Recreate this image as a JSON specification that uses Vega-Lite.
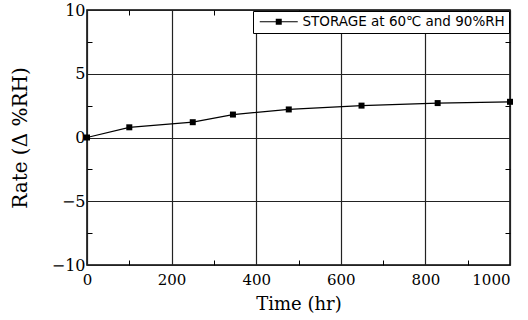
{
  "$schema": "https://vega.github.io/schema/vega-lite/v6.json",
  "width": 423,
  "height": 255,
  "autosize": {"type": "none"},
  "padding": {"left": 87, "top": 10, "right": 18, "bottom": 55},
  "background": "white",
  "config": {
    "view": {"stroke": "black", "strokeWidth": 1.5}
  },
  "data": {
    "values": [
      {"time": 0, "rate": 0, "series": "STORAGE at 60℃ and 90%RH"},
      {"time": 100, "rate": 0.8, "series": "STORAGE at 60℃ and 90%RH"},
      {"time": 250, "rate": 1.2, "series": "STORAGE at 60℃ and 90%RH"},
      {"time": 345, "rate": 1.8, "series": "STORAGE at 60℃ and 90%RH"},
      {"time": 477, "rate": 2.2, "series": "STORAGE at 60℃ and 90%RH"},
      {"time": 649, "rate": 2.5, "series": "STORAGE at 60℃ and 90%RH"},
      {"time": 829, "rate": 2.7, "series": "STORAGE at 60℃ and 90%RH"},
      {"time": 1000, "rate": 2.8, "series": "STORAGE at 60℃ and 90%RH"}
    ]
  },
  "layer": [
    {
      "mark": {"type": "line", "color": "black", "strokeWidth": 1.2},
      "encoding": {
        "x": {
          "field": "time", "type": "quantitative",
          "scale": {"domain": [0, 1000], "nice": false},
          "axis": {
            "orient": "bottom",
            "values": [0, 100, 200, 300, 400, 500, 600, 700, 800, 900, 1000],
            "format": "d",
            "title": "Time (hr)",
            "domain": false,
            "grid": true,
            "gridColor": "#222",
            "gridWidth": 1.2,
            "gridOpacity": {"condition": {"test": "datum.value % 200 === 0", "value": 1}, "value": 0},
            "tickSize": -5,
            "tickColor": "black",
            "tickOpacity": {"condition": {"test": "datum.value % 200 !== 0", "value": 1}, "value": 0},
            "labelExpr": "datum.value % 200 === 0 ? datum.label : ''",
            "labelAlign": {"condition": {"test": "datum.value === 1000", "value": "right"}, "value": "center"},
            "labelFont": "DejaVu Serif",
            "labelFontSize": 15,
            "labelColor": "black",
            "labelPadding": 12,
            "labelFlush": false,
            "labelOverlap": false,
            "titleFont": "DejaVu Serif",
            "titleFontSize": 18,
            "titleFontWeight": "normal",
            "titleColor": "black",
            "titlePadding": 8
          }
        },
        "y": {
          "field": "rate", "type": "quantitative",
          "scale": {"domain": [-10, 10], "nice": false},
          "axis": {
            "orient": "left",
            "values": [-10, -7.5, -5, -2.5, 0, 2.5, 5, 7.5, 10],
            "title": "Rate (Δ %RH)",
            "domain": false,
            "grid": true,
            "gridColor": "#222",
            "gridWidth": 1.2,
            "gridOpacity": {"condition": {"test": "datum.value % 5 === 0", "value": 1}, "value": 0},
            "tickSize": -5,
            "tickColor": "black",
            "tickOpacity": {"condition": {"test": "datum.value % 5 !== 0", "value": 1}, "value": 0},
            "labelExpr": "datum.value % 5 === 0 ? datum.label : ''",
            "labelFont": "DejaVu Serif",
            "labelFontSize": 16,
            "labelColor": "black",
            "labelPadding": 7,
            "labelFlush": false,
            "labelOverlap": false,
            "titleFont": "DejaVu Serif",
            "titleFontSize": 20,
            "titleFontWeight": "normal",
            "titleColor": "black",
            "titlePadding": 21
          }
        }
      }
    },
    {
      "mark": {"type": "point", "shape": "square", "filled": true, "size": 36, "opacity": 1},
      "encoding": {
        "x": {
          "field": "time", "type": "quantitative",
          "scale": {"domain": [0, 1000], "nice": false},
          "axis": {
            "orient": "top",
            "values": [100, 300, 500, 700, 900],
            "labels": false, "grid": false, "domain": false, "title": null,
            "tickSize": -5, "tickColor": "black"
          }
        },
        "y": {
          "field": "rate", "type": "quantitative",
          "scale": {"domain": [-10, 10], "nice": false},
          "axis": {
            "orient": "right",
            "values": [-7.5, -2.5, 2.5, 7.5],
            "labels": false, "grid": false, "domain": false, "title": null,
            "tickSize": -5, "tickColor": "black"
          }
        },
        "color": {
          "field": "series", "type": "nominal",
          "scale": {"range": ["black"]},
          "legend": {
            "orient": "top-right",
            "offset": 1,
            "title": null,
            "strokeColor": "black",
            "fillColor": "white",
            "padding": 4,
            "symbolType": "M-3.8,-0.12H3.8V0.12H-3.8ZM-0.6,-0.6H0.6V0.6H-0.6Z",
            "symbolSize": 100,
            "symbolOffset": 15,
            "labelOffset": 17,
            "labelFont": "DejaVu Sans",
            "labelFontSize": 13.5,
            "labelColor": "black",
            "labelLimit": 0,
            "encode": {
              "legend": {"update": {"strokeWidth": {"value": 1.5}}},
              "symbols": {"update": {"fill": {"value": "black"}, "stroke": {"value": "black"}, "strokeWidth": {"value": 0}, "opacity": {"value": 1}, "fillOpacity": {"value": 1}}}
            }
          }
        }
      }
    }
  ],
  "resolve": {"axis": {"x": "independent", "y": "independent"}}
}
